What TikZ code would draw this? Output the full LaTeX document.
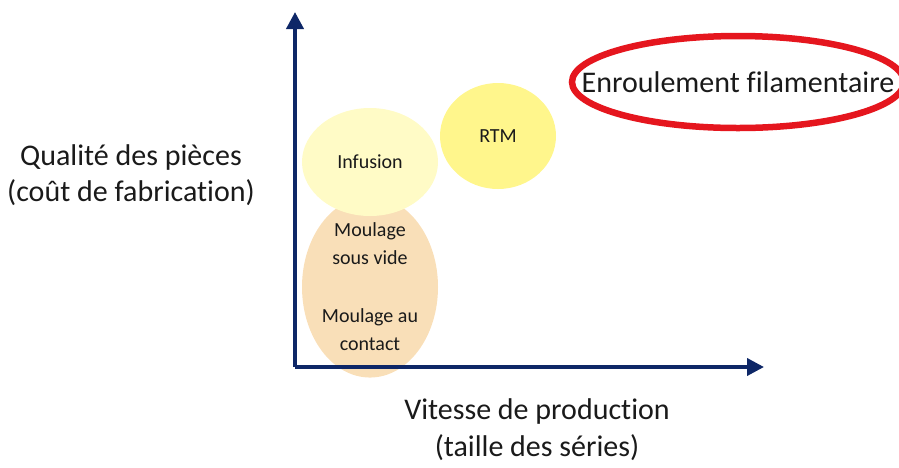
\documentclass[tikz,border=0pt]{standalone}
\usepackage{fontspec}
\setmainfont{Carlito}[Ligatures=NoCommon]
\usetikzlibrary{arrows.meta,shapes.geometric}
\definecolor{axisblue}{HTML}{0E2767}
\definecolor{paleyellow}{HTML}{FFFBC6}
\definecolor{sunyellow}{HTML}{FFF68C}
\definecolor{peach}{HTML}{F9DFB8}
\definecolor{ringred}{HTML}{E5161E}
\definecolor{ink}{HTML}{1A1A1A}

\begin{document}
\begin{tikzpicture}[x=1pt,y=-1pt,
  axis/.style={draw=axisblue,line width=3.8pt,-{Triangle[length=17pt,width=17pt]}},
  blob/.style={ellipse,inner sep=0pt,text=ink,font=\fontsize{20}{28}\selectfont,align=center},
  label/.style={text=ink,font=\fontsize{30}{36}\selectfont,align=center}]
\useasboundingbox (0,0) rectangle (899,467);
% axes
\coordinate (origin) at (295,367);
\coordinate (ytop) at (295,12);
\coordinate (xend) at (764,367);
% process blobs
\node[blob,fill=peach,minimum width=136pt,minimum height=164pt] (moulage) at (370,287)
  {Moulage\\sous vide\\[30pt]Moulage au\\contact};
\node[blob,fill=paleyellow,minimum width=136pt,minimum height=108pt] (infusion) at (370,162) {Infusion};
\node[blob,fill=sunyellow,minimum width=116pt,minimum height=106pt] (rtm) at (498,136) {RTM};
\draw[axis] (origin) -- (ytop);
\draw[axis] (origin) -- (xend);
% highlighted process
\node[ellipse,draw=ringred,line width=6.5pt,minimum width=332pt,minimum height=92pt,inner sep=0pt] (ring) at (738,82) {};
\node[label] (enroulement) at (ring) {Enroulement filamentaire};
% axis titles
\node[label] (qualite) at (131,175) {Qualité des pièces\\(coût de fabrication)};
\node[label,font=\fontsize{30}{37}\selectfont] (vitesse) at (537,430) {Vitesse de production\\(taille des séries)};
\end{tikzpicture}
\end{document}
